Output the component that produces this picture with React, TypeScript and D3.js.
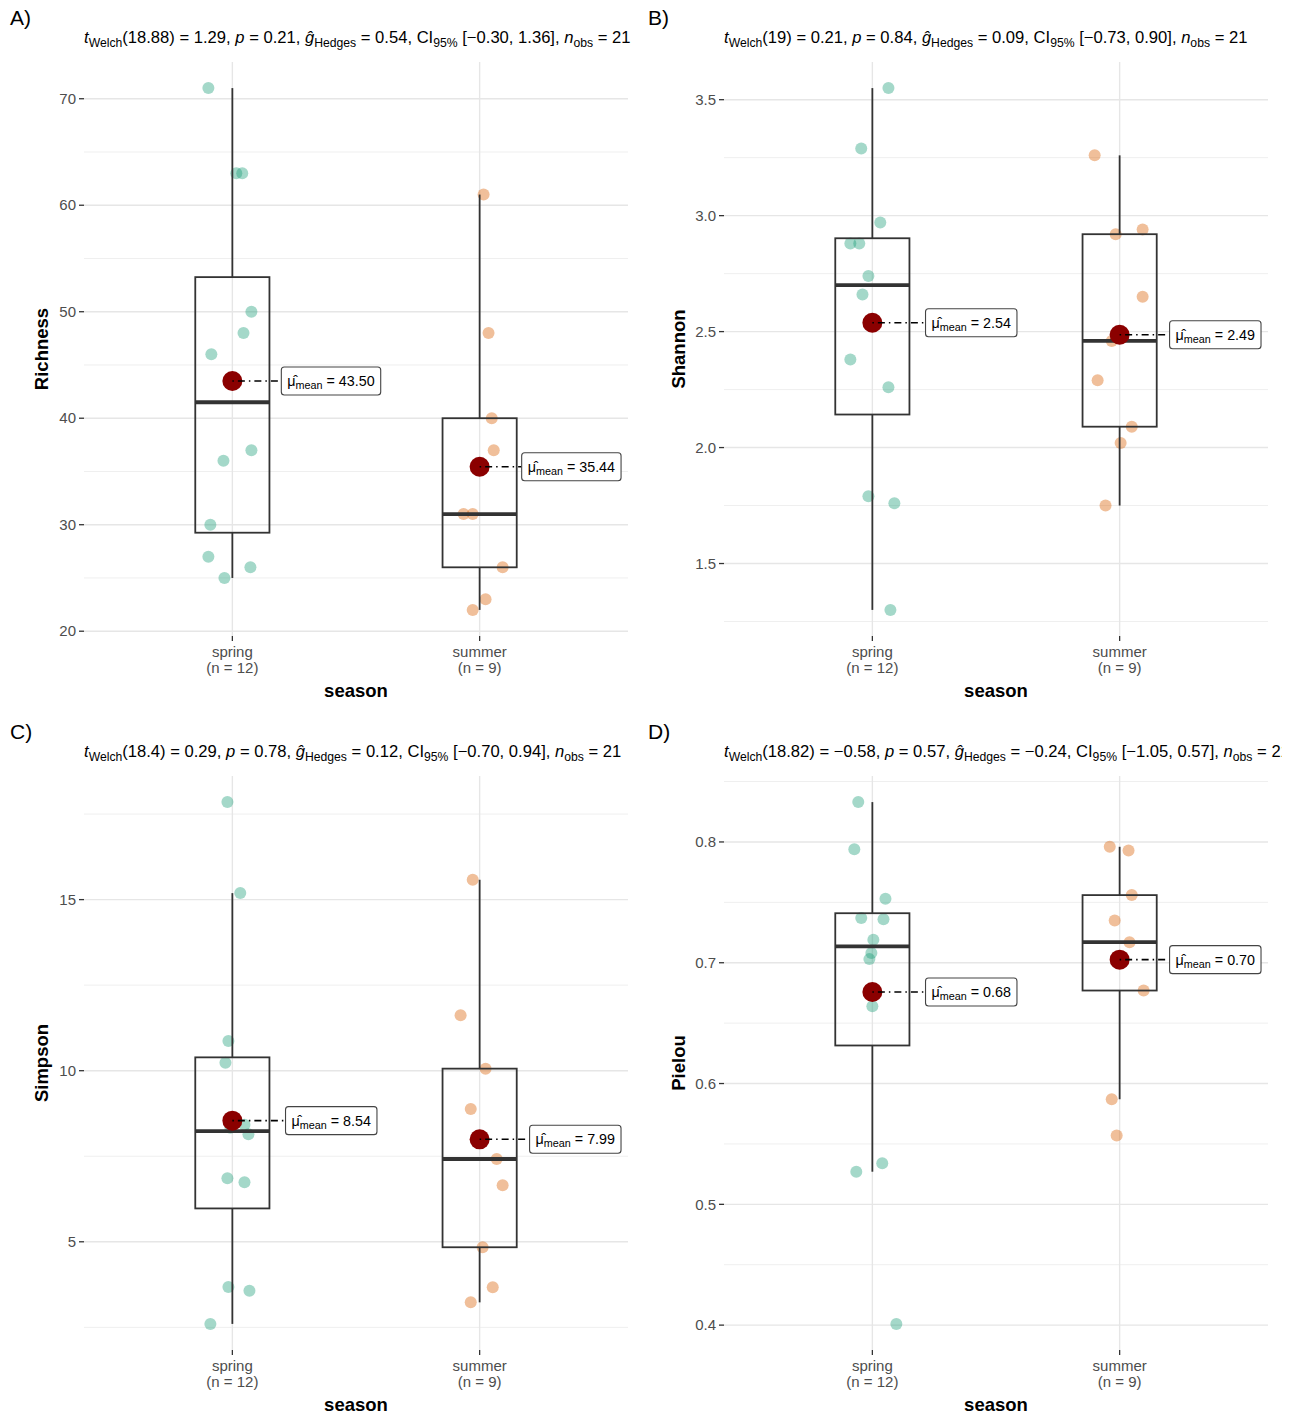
import React, { useEffect, useRef } from "react";
import * as d3 from "d3";

// ---------- data ----------
const seasons = ["spring", "summer"];
const seasonCounts = ["(n = 12)", "(n = 9)"];
const panelTags = ["A)", "B)", "C)", "D)"];
const metricNames = ["Richness", "Shannon", "Simpson", "Pielou"];
const xTitle = "season";

const richnessSpring = [71, 63, 63, 50, 48, 46, 37, 36, 30, 27, 26, 25];
const richnessSpringJitter = [-0.097, 0.016, 0.04, 0.077, 0.045, -0.085, 0.077, -0.036, -0.089, -0.097, 0.073, -0.032];
const richnessSummer = [61, 48, 40, 37, 31, 31, 26, 23, 22];
const richnessSummerJitter = [0.016, 0.036, 0.049, 0.057, -0.065, -0.028, 0.093, 0.024, -0.028];

const shannonSpring = [3.55, 3.29, 2.97, 2.88, 2.88, 2.74, 2.66, 2.38, 2.26, 1.79, 1.76, 1.3];
const shannonSpringJitter = [0.065, -0.045, 0.032, -0.089, -0.053, -0.016, -0.04, -0.089, 0.065, -0.016, 0.089, 0.073];
const shannonSummer = [3.26, 2.92, 2.94, 2.65, 2.46, 2.29, 2.09, 2.02, 1.75];
const shannonSummerJitter = [-0.101, -0.016, 0.093, 0.093, -0.032, -0.089, 0.049, 0.004, -0.057];

const simpsonSpring = [17.85, 15.19, 10.87, 10.23, 8.42, 8.14, 8.33, 6.86, 6.74, 3.68, 3.57, 2.6];
const simpsonSpringJitter = [-0.02, 0.032, -0.016, -0.028, 0.049, 0.065, -0.008, -0.02, 0.049, -0.016, 0.069, -0.089];
const simpsonSummer = [15.58, 11.62, 10.06, 8.88, 7.42, 6.65, 4.84, 3.67, 3.23];
const simpsonSummerJitter = [-0.028, -0.077, 0.024, -0.036, 0.069, 0.093, 0.012, 0.053, -0.036];

const pielouSpring = [0.833, 0.794, 0.753, 0.737, 0.736, 0.719, 0.708, 0.703, 0.664, 0.534, 0.527, 0.401];
const pielouSpringJitter = [-0.057, -0.073, 0.053, -0.045, 0.045, 0.004, -0.004, -0.012, 0, 0.04, -0.065, 0.097];
const pielouSummer = [0.796, 0.793, 0.756, 0.735, 0.717, 0.705, 0.677, 0.587, 0.557];
const pielouSummerJitter = [-0.04, 0.036, 0.049, -0.02, 0.04, 0.008, 0.097, -0.032, -0.012];

const welchDf = ["18.88", "19", "18.4", "18.82"];
const welchT = ["1.29", "0.21", "0.29", "\u22120.58"];
const pValues = ["0.21", "0.84", "0.78", "0.57"];
const hedgesG = ["0.54", "0.09", "0.12", "\u22120.24"];
const ciLow = ["\u22120.30", "\u22120.73", "\u22120.70", "\u22121.05"];
const ciHigh = ["1.36", "0.90", "0.94", "0.57"];
const nObs = ["21", "21", "21", "21"];

const groupValues = [
  [richnessSpring, richnessSummer],
  [shannonSpring, shannonSummer],
  [simpsonSpring, simpsonSummer],
  [pielouSpring, pielouSummer],
];
const groupJitter = [
  [richnessSpringJitter, richnessSummerJitter],
  [shannonSpringJitter, shannonSummerJitter],
  [simpsonSpringJitter, simpsonSummerJitter],
  [pielouSpringJitter, pielouSummerJitter],
];

// ---------- layout / style ----------
const W = 1294;
const H = 1414;
const FONT = "'Liberation Sans', Arial, Helvetica, sans-serif";
const colLeft = [84, 724];
const rowTop = [62, 776];
const panelW = 544;
const panelH = 574;
const pointColors = ["#1B9E77", "#D95F02"];
const labelOffsets = [
  [0.198, 0.17],
  [0.215, 0.202],
  [0.215, 0.202],
  [0.215, 0.202],
];

export default function App() {
  const ref = useRef<SVGSVGElement | null>(null);

  useEffect(() => {
    const svg = d3.select(ref.current);
    svg.selectAll("*").remove();
    svg.append("rect").attr("width", W).attr("height", H).attr("fill", "white");

    const defs = svg.append("defs");
    defs
      .append("clipPath")
      .attr("id", "figclip")
      .append("rect")
      .attr("x", 0)
      .attr("y", 0)
      .attr("width", 1282)
      .attr("height", H);

    for (let p = 0; p < 4; p++) {
      const col = p % 2;
      const row = Math.floor(p / 2);
      const left = colLeft[col];
      const top = rowTop[row];
      const g = svg.append("g").attr("font-family", FONT);

      const vals = groupValues[p];
      const all = vals[0].concat(vals[1]);
      const [mn, mx] = d3.extent(all) as [number, number];
      const pad = (mx - mn) * 0.05;

      const x = d3.scaleLinear().domain([0.4, 2.6]).range([left, left + panelW]);
      const y = d3.scaleLinear().domain([mn - pad, mx + pad]).range([top + panelH, top]);
      const unit = x(1) - x(0);

      const [d0, d1] = y.domain();
      const ticks = y.ticks(5);
      const step = d3.tickStep(d0, d1, 5);
      const fmt = d3.format(`.${d3.precisionFixed(step)}f`);
      const minors: number[] = [];
      minors.push(ticks[0] - step / 2);
      for (let i = 0; i < ticks.length; i++) minors.push(ticks[i] + step / 2);

      // minor grid
      g.selectAll(".minor")
        .data(minors.filter((v) => v >= d0 && v <= d1))
        .enter()
        .append("line")
        .attr("x1", left)
        .attr("x2", left + panelW)
        .attr("y1", (d) => y(d))
        .attr("y2", (d) => y(d))
        .attr("stroke", "#EFEFEF")
        .attr("stroke-width", 1);
      // major grid
      g.selectAll(".major")
        .data(ticks)
        .enter()
        .append("line")
        .attr("x1", left)
        .attr("x2", left + panelW)
        .attr("y1", (d) => y(d))
        .attr("y2", (d) => y(d))
        .attr("stroke", "#E6E6E6")
        .attr("stroke-width", 1.4);
      g.selectAll(".vgrid")
        .data([1, 2])
        .enter()
        .append("line")
        .attr("x1", (d) => x(d))
        .attr("x2", (d) => x(d))
        .attr("y1", top)
        .attr("y2", top + panelH)
        .attr("stroke", "#E6E6E6")
        .attr("stroke-width", 1.4);

      // y ticks
      g.selectAll(".ytick")
        .data(ticks)
        .enter()
        .append("line")
        .attr("x1", left - 5)
        .attr("x2", left)
        .attr("y1", (d) => y(d))
        .attr("y2", (d) => y(d))
        .attr("stroke", "#333333")
        .attr("stroke-width", 1.3);
      g.selectAll(".ylab")
        .data(ticks)
        .enter()
        .append("text")
        .attr("x", left - 8)
        .attr("y", (d) => y(d) + 5.2)
        .attr("text-anchor", "end")
        .attr("font-size", 15)
        .attr("fill", "#4D4D4D")
        .text((d) => fmt(d));

      // x ticks
      seasons.forEach((s, i) => {
        const cx = x(i + 1);
        g.append("line")
          .attr("x1", cx)
          .attr("x2", cx)
          .attr("y1", top + panelH)
          .attr("y2", top + panelH + 5)
          .attr("stroke", "#333333")
          .attr("stroke-width", 1.3);
        g.append("text")
          .attr("x", cx)
          .attr("y", top + panelH + 20.5)
          .attr("text-anchor", "middle")
          .attr("font-size", 15)
          .attr("fill", "#4D4D4D")
          .text(s);
        g.append("text")
          .attr("x", cx)
          .attr("y", top + panelH + 36.5)
          .attr("text-anchor", "middle")
          .attr("font-size", 15)
          .attr("fill", "#4D4D4D")
          .text(seasonCounts[i]);
      });

      // titles
      g.append("text")
        .attr("x", left + panelW / 2)
        .attr("y", top + panelH + 60.5)
        .attr("text-anchor", "middle")
        .attr("font-size", 18.5)
        .attr("font-weight", "bold")
        .attr("fill", "#000")
        .text(xTitle);
      const ytx = col === 0 ? 47.5 : 684.5;
      g.append("text")
        .attr("transform", `translate(${ytx},${top + panelH / 2}) rotate(-90)`)
        .attr("text-anchor", "middle")
        .attr("font-size", 18.5)
        .attr("font-weight", "bold")
        .attr("fill", "#000")
        .text(metricNames[p]);
      g.append("text")
        .attr("x", col === 0 ? 10 : 648)
        .attr("y", top - 37.5)
        .attr("font-size", 21)
        .attr("fill", "#000")
        .text(panelTags[p]);

      // subtitle
      const st = g
        .append("text")
        .attr("x", left)
        .attr("y", top - 19.5)
        .attr("font-size", 16.6)
        .attr("fill", "#000")
        .attr("clip-path", "url(#figclip)");
      const parts: [string, string][] = [
        ["i", "t"],
        ["s", "Welch"],
        ["n", `(${welchDf[p]}) = ${welchT[p]}, `],
        ["i", "p"],
        ["n", ` = ${pValues[p]}, `],
        ["i", "\u011D"],
        ["s", "Hedges"],
        ["n", ` = ${hedgesG[p]}, CI`],
        ["s", "95%"],
        ["n", ` [${ciLow[p]}, ${ciHigh[p]}], `],
        ["i", "n"],
        ["s", "obs"],
        ["n", ` = ${nObs[p]}`],
      ];
      let sub = false;
      parts.forEach(([k, t]) => {
        const ts = st.append("tspan").text(t);
        if (k === "s") {
          ts.attr("font-size", 12.2).attr("dy", sub ? 0 : 4.5);
          sub = true;
        } else {
          if (sub) ts.attr("dy", -4.5);
          sub = false;
          if (k === "i") ts.attr("font-style", "italic");
        }
      });

      // points
      vals.forEach((arr, gi) => {
        const jit = groupJitter[p][gi];
        g.selectAll(`.pt${gi}`)
          .data(arr.map((v, i) => ({ v, j: jit[i] })))
          .enter()
          .append("circle")
          .attr("cx", (d) => x(gi + 1 + d.j))
          .attr("cy", (d) => y(d.v))
          .attr("r", 6)
          .attr("fill", pointColors[gi])
          .attr("fill-opacity", 0.4);
      });

      // boxes
      vals.forEach((arr, gi) => {
        const sorted = arr.slice().sort(d3.ascending);
        const q1 = d3.quantile(sorted, 0.25) as number;
        const med = d3.quantile(sorted, 0.5) as number;
        const q3 = d3.quantile(sorted, 0.75) as number;
        const iqr = q3 - q1;
        const lo = d3.min(sorted.filter((v) => v >= q1 - 1.5 * iqr)) as number;
        const hi = d3.max(sorted.filter((v) => v <= q3 + 1.5 * iqr)) as number;
        const cx = x(gi + 1);
        const bw = 0.15 * unit;
        g.append("line").attr("x1", cx).attr("x2", cx).attr("y1", y(hi)).attr("y2", y(q3))
          .attr("stroke", "#333333").attr("stroke-width", 1.8);
        g.append("line").attr("x1", cx).attr("x2", cx).attr("y1", y(q1)).attr("y2", y(lo))
          .attr("stroke", "#333333").attr("stroke-width", 1.8);
        g.append("rect")
          .attr("x", cx - bw)
          .attr("y", y(q3))
          .attr("width", 2 * bw)
          .attr("height", y(q1) - y(q3))
          .attr("fill", "none")
          .attr("stroke", "#333333")
          .attr("stroke-width", 1.8);
        g.append("line").attr("x1", cx - bw).attr("x2", cx + bw).attr("y1", y(med)).attr("y2", y(med))
          .attr("stroke", "#333333").attr("stroke-width", 3.8);
      });

      // means + labels
      vals.forEach((arr, gi) => {
        const m = d3.mean(arr) as number;
        const cx = x(gi + 1);
        const cy = y(m);
        g.append("circle").attr("cx", cx).attr("cy", cy).attr("r", 10).attr("fill", "#8B0000");
        const lx = cx + labelOffsets[p][gi] * unit;
        g.append("line")
          .attr("x1", cx)
          .attr("x2", lx)
          .attr("y1", cy)
          .attr("y2", cy)
          .attr("stroke", "#000")
          .attr("stroke-width", 1.6)
          .attr("stroke-dasharray", "1.5 4 7 4");
        const lg = g.append("g");
        const rect = lg.append("rect");
        const tx = lg
          .append("text")
          .attr("x", lx + 6)
          .attr("y", cy + 5)
          .attr("font-size", 14.3)
          .attr("fill", "#000");
        tx.append("tspan").text("\u03BC\u0302");
        tx.append("tspan").attr("font-size", 10.8).attr("dy", 3).text("mean");
        tx.append("tspan").attr("dy", -3).text(` = ${m.toFixed(2)}`);
        const bb = (tx.node() as SVGTextElement).getBBox();
        rect
          .attr("x", lx)
          .attr("y", cy - 14)
          .attr("width", bb.width + 12)
          .attr("height", 28)
          .attr("rx", 3)
          .attr("fill", "white")
          .attr("stroke", "#444444")
          .attr("stroke-width", 1.1);
      });
    }
  }, []);

  return (
    <svg
      ref={ref}
      width={W}
      height={H}
      viewBox={`0 0 ${W} ${H}`}
      style={{ display: "block", position: "absolute", left: 0, top: 0 }}
    />
  );
}
